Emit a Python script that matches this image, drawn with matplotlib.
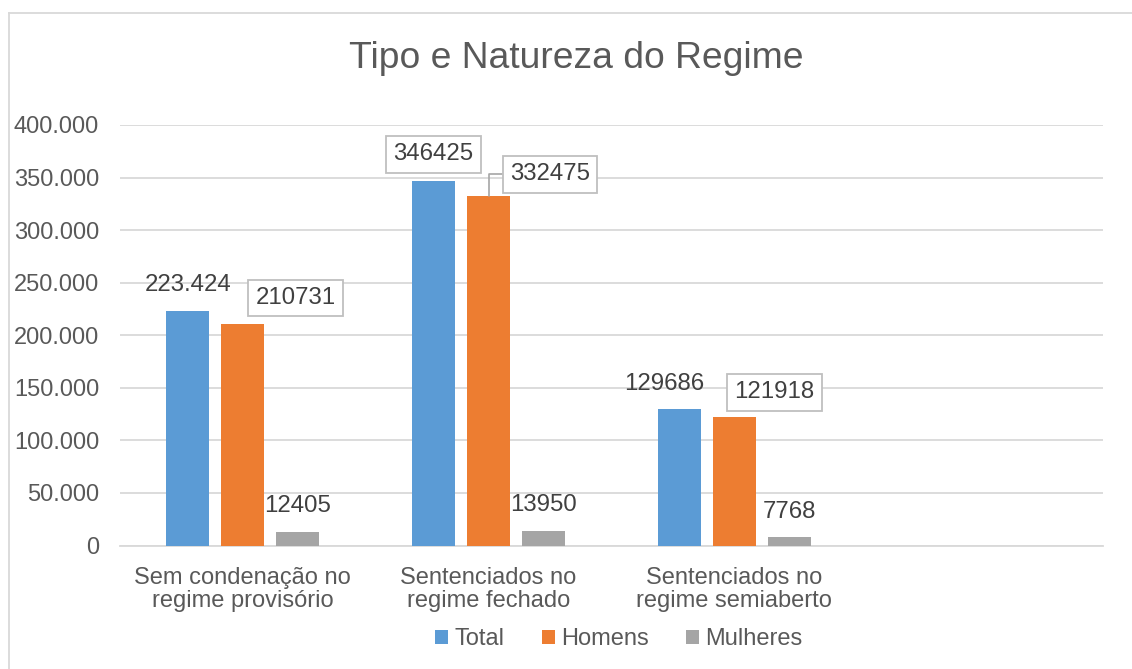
import matplotlib
matplotlib.use("Agg")
import matplotlib.pyplot as plt
import numpy as np
from matplotlib.ticker import FuncFormatter, FixedLocator
from matplotlib.lines import Line2D

plt.rcParams['font.family'] = ['Liberation Sans', 'DejaVu Sans']

# ---- data ----
categories = ["Sem condenação no\nregime provisório",
              "Sentenciados no\nregime fechado",
              "Sentenciados no\nregime semiaberto",
              ""]
series_names = ["Total", "Homens", "Mulheres"]
total = [223424, 346425, 129686]
homens = [210731, 332475, 121918]
mulheres = [12405, 13950, 7768]
total_labels = ["223.424", "346425", "129686"]
homens_labels = ["210731", "332475", "121918"]
mulheres_labels = ["12405", "13950", "7768"]
yticks = [0, 50000, 100000, 150000, 200000, 250000, 300000, 350000, 400000]

# ---- style ----
colors = ["#5B9BD5", "#ED7D31", "#A5A5A5"]
W, H = 1132, 669
DPI = 100
fig = plt.figure(figsize=(W / DPI, H / DPI), dpi=DPI)
ax = fig.add_axes([120 / W, 1 - 545.5 / H, 983 / W, (545.5 - 125) / H])

n_cat = len(categories)
x = np.arange(n_cat)
bw = 0.175
step = 0.224
series = [total, homens, mulheres]
labels = [total_labels, homens_labels, mulheres_labels]

# label offsets in pixels (dx, dy) from bar top centre, and whether boxed
offsets = [
    [(0, 26, False), (0, 27, True), (-15, 25, False)],
    [(52.5, 26, True), (61.5, 21.5, True), (40, 25, True)],
    [(0, 26, False), (0, 26, False), (0, 25, False)],
]

for i, (vals, labs) in enumerate(zip(series, labels)):
    xs = x[:len(vals)] + (i - 1) * step
    ax.bar(xs, vals, width=bw, color=colors[i], label=series_names[i], zorder=3)
    for j, (xx, v, lab) in enumerate(zip(xs, vals, labs)):
        dx, dy, boxed = offsets[i][j]
        kw = {}
        if boxed:
            kw['bbox'] = dict(boxstyle='square,pad=0.3', fc='white', ec='#BFBFBF', lw=1.3)
        if i == 1 and j == 1:
            kw['arrowprops'] = dict(arrowstyle='-', color='#A6A6A6', lw=1.2,
                                    shrinkA=0, shrinkB=0, relpos=(0, 0.5),
                                    connectionstyle='angle,angleA=0,angleB=90,rad=0')
        ax.annotate(lab, xy=(xx, v), xytext=(dx * 72 / DPI, dy * 72 / DPI),
                    textcoords='offset points', ha='center', va='center',
                    fontsize=17.3, color='#404040', zorder=5, **kw)

ax.set_xlim(-0.5, n_cat - 0.5)
ax.set_ylim(0, 400000)
ax.yaxis.set_major_locator(FixedLocator(yticks))
ax.yaxis.set_major_formatter(FuncFormatter(lambda v, p: f"{int(v):,}".replace(",", ".")))
ax.set_xticks(x)
ax.set_xticklabels(categories, linespacing=1.05)
ax.tick_params(axis='y', length=0, pad=15, labelsize=17, labelcolor='#595959')
ax.tick_params(axis='x', length=0, pad=15.5, labelsize=17, labelcolor='#595959')
ax.grid(axis='y', color='#D9D9D9', lw=1.3, zorder=0)
ax.set_axisbelow(True)
for s in ['top', 'right', 'left']:
    ax.spines[s].set_visible(False)
ax.spines['bottom'].set_color('#D9D9D9')
ax.spines['bottom'].set_linewidth(1.3)

fig.text(576.5 / W, 1 - 67.5 / H, "Tipo e Natureza do Regime", ha='center', va='baseline',
         fontsize=26.8, color='#595959')

leg = fig.legend(loc='center', bbox_to_anchor=(619 / W, 1 - 639 / H), ncol=3, frameon=False,
                 fontsize=17, handlelength=0.55, handleheight=0.55, handletextpad=0.25,
                 columnspacing=1.6, labelcolor='#595959')

# chart border (extends past right / bottom edge)
fig.add_artist(Line2D([8.8 / W, 8.8 / W], [1 - 12.5 / H, -0.1], color='#D9D9D9', lw=1.3,
                      transform=fig.transFigure))
fig.add_artist(Line2D([8.8 / W, 1.1], [1 - 12.5 / H, 1 - 12.5 / H], color='#D9D9D9', lw=1.3,
                      transform=fig.transFigure))

fig.savefig("out.png", dpi=DPI, facecolor='white')
